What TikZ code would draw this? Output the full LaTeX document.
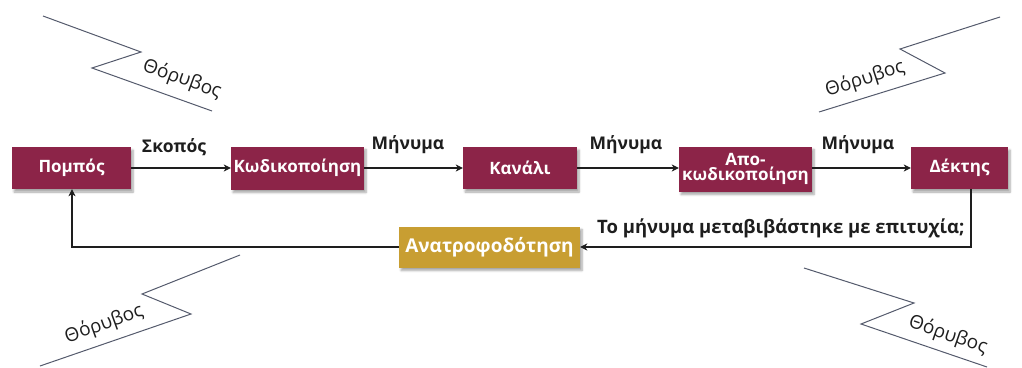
\documentclass[tikz,border=0pt]{standalone}
\usepackage{fontspec}
\setmainfont{Open Sans}
\usetikzlibrary{arrows.meta,shadows.blur}
\definecolor{boxred}{RGB}{140,36,72}
\definecolor{boxgold}{RGB}{200,158,50}
\definecolor{noisegray}{RGB}{84,90,108}
\definecolor{ink}{RGB}{30,30,30}
\begin{document}
\begin{tikzpicture}[x=1pt,y=-1pt,
  stagebox/.style={fill=boxred, text=white, align=center, inner sep=0pt,
    font=\bfseries\fontsize{17}{15}\selectfont,
    blur shadow={shadow xshift=2pt, shadow yshift=-3pt, shadow blur steps=6, shadow opacity=35}},
  goldbox/.style={stagebox, fill=boxgold, font=\bfseries\fontsize{19}{20}\selectfont},
  conn/.style={draw=ink, line width=1.1pt, -{Stealth[length=7pt,width=7pt,inset=2pt]}},
  stub/.style={draw=ink, line width=2.6pt},
  lbl/.style={text=ink, font=\bfseries\fontsize{17.5}{18}\selectfont},
  qlbl/.style={text=ink, font=\bfseries\fontsize{18.5}{20}\selectfont},
  zig/.style={draw=noisegray, line width=1pt},
  noiselbl/.style={text=ink, font=\fontsize{19}{20}\selectfont}]
\useasboundingbox (0,0) rectangle (1022,367);

% stages of the communication chain
\node[stagebox, minimum width=119pt, minimum height=42pt] (pompos) at (71.5,168) {Πομπός};
\node[stagebox, minimum width=133pt, minimum height=43pt] (kod) at (297.5,168) {Κωδικοποίηση};
\node[stagebox, minimum width=114pt, minimum height=42pt] (kanali) at (520,168) {Κανάλι};
\node[stagebox, minimum width=133pt, minimum height=45pt] (apokod) at (745.5,169) {Απο-\\κωδικοποίηση};
\node[stagebox, minimum width=97pt, minimum height=42pt] (dektis) at (959.5,168) {Δέκτης};
\node[goldbox, minimum width=181pt, minimum height=41pt] (anatro) at (489.5,247) {Ανατροφοδότηση};

% forward connectors
\draw[conn] (pompos.east) -- (kod.west);
\draw[conn] (kod.east) -- (kanali.west);
\draw[conn] (kanali.east) -- (apokod.west |- kanali.east);
\draw[conn] (apokod.east |- dektis.west) -- (dektis.west);
\draw[stub] (pompos.east) -- ++(18,0);
\draw[stub] (kod.east) -- ++(14,0);
\draw[stub] (kanali.east) -- ++(14,0);
\draw[stub] (apokod.east |- dektis.west) -- ++(14,0);

\node[lbl] (l1) at (174,147) {Σκοπός};
\node[lbl] (l2) at (408,145) {Μήνυμα};
\node[lbl] (l3) at (626,145) {Μήνυμα};
\node[lbl] (l4) at (858,145) {Μήνυμα};

% feedback loop
\coordinate (fbR) at (971,247);
\coordinate (fbL) at (72,247);
\draw[conn] (fbR |- dektis.south) -- (fbR) -- (anatro.east);
\draw[conn] (anatro.west) -- (fbL) -- (fbL |- pompos.south);
\draw[stub] (fbR |- dektis.south) -- ++(0,14);
\draw[stub] (anatro.west) -- ++(-12,0);
\node[qlbl, anchor=east] (q) at (968,228) {Το μήνυμα μεταβιβάστηκε με επιτυχία;};

% noise bolts
\draw[zig] (43,16) -- (141,52) -- (92,68) -- (212,111);
\node[noiselbl, rotate=-20] (n1) at (182,79) {Θόρυβος};
\draw[zig] (1000,17) -- (900,49) -- (945,73) -- (819,112);
\node[noiselbl, rotate=18] (n2) at (865,79) {Θόρυβος};
\draw[zig] (240,255) -- (142,294) -- (191,314) -- (40,366);
\node[noiselbl, rotate=20] (n3) at (104,324) {Θόρυβος};
\draw[zig] (804,268) -- (914,303) -- (861,324) -- (987,367);
\node[noiselbl, rotate=-19] (n4) at (948,335) {Θόρυβος};
\end{tikzpicture}
\end{document}
